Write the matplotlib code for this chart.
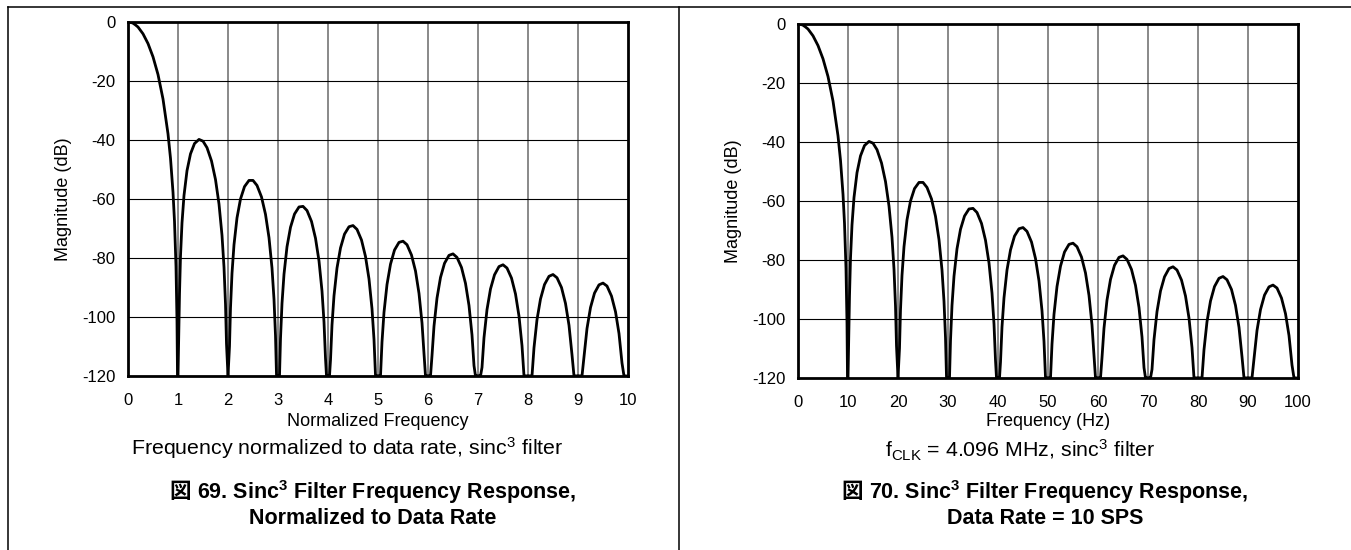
import matplotlib
matplotlib.use("Agg")
import matplotlib.pyplot as plt
from matplotlib.lines import Line2D

plt.rcParams['font.family'] = ['Liberation Sans', 'Noto Sans CJK JP', 'DejaVu Sans']
plt.rcParams['mathtext.fontset'] = 'custom'
plt.rcParams['mathtext.rm'] = 'Liberation Sans'
plt.rcParams['mathtext.it'] = 'Liberation Sans:italic'
plt.rcParams['mathtext.bf'] = 'Liberation Sans:bold'
plt.rcParams['axes.unicode_minus'] = False

# ---------------- data ----------------
# main lobe, normalized frequency 0..1
main_x = [0, 0.05, 0.1, 0.15, 0.2, 0.3, 0.4, 0.5, 0.6, 0.7, 0.8, 0.85, 0.9, 0.93, 0.96, 0.98, 0.99, 1.0]
main_y = [0, -0.1, -0.4, -1.0, -1.7, -4.0, -7.3, -11.8, -17.8, -26.1, -37.9, -46.2, -57.7, -67.6, -82.9, -101.4, -119.7, -120]

# side lobes: fractional position inside each lobe (lobe n spans n .. n+1)
lobe_offsets = [0, 0.03, 0.05, 0.08, 0.12, 0.18, 0.25, 0.33, 0.42, 0.5,
                0.58, 0.67, 0.75, 0.82, 0.88, 0.92, 0.95, 0.97, 1.0]
lobe_starts = [1, 2, 3, 4, 5, 6, 7, 8, 9]
lobe1 = [-120, -92.2, -79.4, -68.1, -58.8, -50.4, -44.7, -41.2, -39.8, -40.4, -42.6, -47.1, -53.4, -61.7, -72.3, -83.1, -95.6, -109.1, -120]
lobe2 = [-120, -109.9, -96.9, -85.2, -75.5, -66.4, -60.0, -55.8, -53.7, -53.7, -55.4, -59.3, -65.2, -73.1, -83.4, -94.0, -106.3, -119.7, -120]
lobe3 = [-120, -120, -107.3, -95.4, -85.5, -76.2, -69.6, -65.1, -62.7, -62.5, -63.9, -67.6, -73.3, -81.0, -91.2, -101.7, -114.0, -120, -120]
lobe4 = [-120, -120, -114.6, -102.7, -92.8, -83.4, -76.6, -71.9, -69.4, -69.0, -70.3, -73.9, -79.5, -87.1, -97.2, -107.6, -119.8, -120, -120]
lobe5 = [-120, -120, -120, -108.5, -98.4, -89.0, -82.1, -77.3, -74.7, -74.3, -75.5, -79.0, -84.4, -92.0, -102.0, -112.4, -120, -120, -120]
lobe6 = [-120, -120, -120, -113.1, -103.1, -93.6, -86.6, -81.8, -79.1, -78.6, -79.8, -83.2, -88.6, -96.1, -106.1, -116.5, -120, -120, -120]
lobe7 = [-120, -120, -120, -117.1, -107.0, -97.5, -90.5, -85.7, -82.9, -82.3, -83.4, -86.8, -92.2, -99.7, -109.7, -120, -120, -120, -120]
lobe8 = [-120, -120, -120, -120, -110.4, -100.9, -93.9, -89.0, -86.2, -85.6, -86.7, -90.0, -95.4, -102.8, -112.8, -120, -120, -120, -120]
lobe9 = [-120, -120, -120, -120, -113.5, -103.9, -96.8, -91.9, -89.1, -88.5, -89.5, -92.9, -98.2, -105.6, -115.6, -120, -120, -120, -120]
lobes = [lobe1, lobe2, lobe3, lobe4, lobe5, lobe6, lobe7, lobe8, lobe9]

data_rate_sps = 10  # Hz per normalized unit in the right chart

y_ticks = [0, -20, -40, -60, -80, -100, -120]
x_ticks_norm = [0, 1, 2, 3, 4, 5, 6, 7, 8, 9, 10]
x_ticks_hz = [0, 10, 20, 30, 40, 50, 60, 70, 80, 90, 100]

# ---------------- figure ----------------
W, H = 1351, 550
fig = plt.figure(figsize=(W / 100, H / 100), dpi=100)


def fx(px):
    return px / W


def fy(py):
    return 1 - py / H


# frame lines
fig.add_artist(Line2D([fx(8), 1], [fy(7), fy(7)], color='black', lw=1.1))
fig.add_artist(Line2D([fx(8), fx(8)], [fy(7), 0], color='black', lw=1.1))
fig.add_artist(Line2D([fx(679), fx(679)], [fy(7), 0], color='black', lw=1.1))


def make_axes(left_px, top_px, right_px, bottom_px, scale, xticks, ylabel_x_px):
    ax = fig.add_axes([fx(left_px), fy(bottom_px), (right_px - left_px) / W, (bottom_px - top_px) / H])
    ax.plot([v * scale for v in main_x], main_y, color='black', lw=2.0, zorder=3,
            solid_joinstyle='round')
    for start, ys in zip(lobe_starts, lobes):
        xs = [(start + o) * scale for o in lobe_offsets]
        ax.plot(xs, ys, color='black', lw=2.0, zorder=3, solid_joinstyle='round')
    ax.set_xlim(0, 10 * scale)
    ax.set_ylim(-120, 0)
    ax.set_xticks(xticks)
    ax.set_yticks(y_ticks)
    ax.tick_params(length=0, labelsize=12)
    ax.tick_params(axis='y', pad=9)
    ax.tick_params(axis='x', pad=12.5)
    for x in xticks[1:-1]:
        ax.axvline(x, color='#808080', lw=1.3, zorder=1)
    for y in y_ticks[1:-1]:
        ax.axhline(y, color='black', lw=0.8, zorder=1)
    for s in ax.spines.values():
        s.set_linewidth(2.0)
        s.set_zorder(4)
    ax.set_ylabel('Magnitude (dB)', fontsize=13)
    ax.yaxis.set_label_coords((ylabel_x_px - left_px) / (right_px - left_px), 0.5)
    return ax


axL = make_axes(128, 22, 628, 376, 1, x_ticks_norm, 72)
axR = make_axes(798, 24, 1298, 378, data_rate_sps, x_ticks_hz, 742)

renderer = fig.canvas.get_renderer()
TITLE_SIZE = 15.5


def title_line(cx, cy, label):
    """Bold figure title: CJK glyph drawn separately, rest with mathtext superscript."""
    t1 = fig.text(0, 0, '図', fontfamily='Noto Sans CJK JP', fontweight='bold', fontsize=TITLE_SIZE,
                  ha='left', va='baseline')
    t2 = fig.text(0, 0, label, fontweight='bold', fontsize=TITLE_SIZE, ha='left', va='baseline')
    w1 = t1.get_window_extent(renderer).width
    w2 = t2.get_window_extent(renderer).width
    gap = 6
    left = cx - (w1 + gap + w2) / 2
    base = cy + 7.5
    t1.set_position((fx(left), fy(base)))
    t2.set_position((fx(left + w1 + gap), fy(base)))


# left texts
fig.text(fx(378), fy(421), 'Normalized Frequency', ha='center', va='center', fontsize=13)
fig.text(fx(347), fy(448), 'Frequency normalized to data rate, sinc$^3$ filter', ha='center', va='center',
         fontsize=15.4)
title_line(373, 491, '69. Sinc$^{\\mathbf{3}}$ Filter Frequency Response,')
fig.text(fx(373), fy(518), 'Normalized to Data Rate', ha='center', va='center', fontsize=TITLE_SIZE,
         fontweight='bold')

# right texts
fig.text(fx(1048), fy(422), 'Frequency (Hz)', ha='center', va='center', fontsize=13)
fig.text(fx(1020), fy(450), 'f$_{\\mathrm{CLK}}$ = 4.096 MHz, sinc$^3$ filter', ha='center', va='center',
         fontsize=15.4)
title_line(1045, 491, '70. Sinc$^{\\mathbf{3}}$ Filter Frequency Response,')
fig.text(fx(1045), fy(518), 'Data Rate = 10 SPS', ha='center', va='center', fontsize=TITLE_SIZE,
         fontweight='bold')

fig.savefig('out.png', dpi=100)
